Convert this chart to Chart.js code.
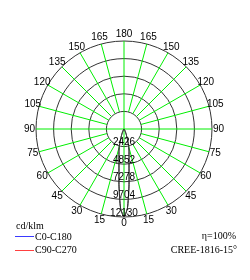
<!DOCTYPE html>
<html>
<head>
<meta charset="utf-8">
<script src="https://cdn.jsdelivr.net/npm/chart.js@4/dist/chart.umd.min.js"></script>
<style>
  html, body { margin: 0; padding: 0; background: #fff; }
  #wrap { position: relative; width: 250px; height: 280px; overflow: hidden; }
  canvas { position: absolute; left: 0; top: 0; }
  .t { position: absolute; font-family: "Liberation Serif", serif; font-size: 10px; line-height: 12px; color: #000; white-space: nowrap; }
  .ln { position: absolute; height: 1px; width: 19px; }
</style>
</head>
<body>
<div id="wrap">
  <canvas id="c" width="250" height="280"></canvas>
  <div class="t" style="left:16px; top:220px;">cd/klm</div>
  <div class="ln" style="left:15px; top:236px; background:#3a3aff;"></div>
  <div class="t" style="left:35px; top:231px;">C0-C180</div>
  <div class="ln" style="left:15px; top:250px; background:#ff4040;"></div>
  <div class="t" style="left:35px; top:244px;">C90-C270</div>
  <div class="t" style="right:14px; top:230px;">η=100%</div>
  <div class="t" style="right:13px; top:244px;">CREE-1816-15°</div>
</div>
<script>
// Gamma angles (degrees from nadir) of the measured half plane
const gammaDeg = [0,2.5,5,7.5,10,12.5,15,17.5,20,22.5,25,27.5,30,32.5,35,37.5,40,42.5,45,47.5,50,52.5,55,57.5,60,62.5,65,67.5,70,72.5,75,77.5,80,82.5,85,87.5,90,92.5,95,97.5,100,102.5,105,107.5,110,112.5,115,117.5,120,122.5,125,127.5,130,132.5,135,137.5,140,142.5,145,147.5,150,152.5,155,157.5,160,162.5,165,167.5,170,172.5,175,177.5,180];

// Luminous intensity, cd/klm
const c0c180 = [12130,10900,7900,5300,4000,3200,2500,1700,1150,800,520,350,240,170,120,90,70,55,45,35,28,22,18,14,10,8,6,4,3,2,1,1,0,0,0,0,0,0,0,0,0,0,0,0,0,0,0,0,0,0,0,0,0,0,0,0,0,0,0,0,0,0,0,0,0,0,0,0,0,0,0,0,0];
const c90c270 = [12130,10900,7900,5300,4000,3200,2500,1700,1150,800,520,350,240,170,120,90,70,55,45,35,28,22,18,14,10,8,6,4,3,2,1,1,0,0,0,0,0,0,0,0,0,0,0,0,0,0,0,0,0,0,0,0,0,0,0,0,0,0,0,0,0,0,0,0,0,0,0,0,0,0,0,0,0];

// Radial tick values (rings)
const tickValues = [0, 2426, 4852, 7278, 9704, 12130];

// Build full circle (both half planes) from the half-plane data
const n = (gammaDeg.length - 1) * 2;
const planeIdx = [];
for (let i = 0; i < n; i++) planeIdx.push(i <= gammaDeg.length - 1 ? i : n - i);
const angleLabels = planeIdx.map(k => String(gammaDeg[k]));
const dataC0 = planeIdx.map(k => c0c180[k]);
const dataC90 = planeIdx.map(k => c90c270[k]);

const labelEvery = 15 / (gammaDeg[1] - gammaDeg[0]);
const axisEvery = 90 / (gammaDeg[1] - gammaDeg[0]);

const labelPlugin = {
  id: 'polarLabels',
  afterDraw(chart) {
    const s = chart.scales.r;
    const ctx = chart.ctx;
    ctx.save();
    ctx.font = '10px "Liberation Sans"';
    ctx.fillStyle = '#000';
    // angle labels, centred just outside the outer ring
    ctx.textAlign = 'center';
    ctx.textBaseline = 'middle';
    s._pointLabels.forEach((lab, i) => {
      if (!lab) return;
      const p = s.getPointPosition(i, s.drawingArea + 6.5);
      ctx.fillText(lab, p.x, p.y);
    });
    // ring value labels along the 0° direction
    ctx.textBaseline = 'alphabetic';
    tickValues.forEach(v => {
      if (v === 0) return;
      const p = s.getPointPosition(0, s.getDistanceFromCenterForValue(v));
      ctx.fillText(String(v), p.x, p.y - 1.5);
    });
    ctx.restore();
  }
};

new Chart(document.getElementById('c'), {
  type: 'radar',
  data: {
    labels: angleLabels,
    datasets: [
      { label: 'C0-C180', data: dataC0, borderColor: '#333', borderWidth: 1, pointRadius: 0, fill: false, tension: 0.2 },
      { label: 'C90-C270', data: dataC90, borderColor: '#333', borderWidth: 1, pointRadius: 0, fill: false, tension: 0.2 }
    ]
  },
  options: {
    responsive: false,
    animation: false,
    layout: { padding: { left: 36, right: 38, top: 41, bottom: 63 } },
    plugins: { legend: { display: false }, tooltip: { enabled: false } },
    scales: {
      r: {
        startAngle: 180,
        min: 0,
        max: tickValues[tickValues.length - 1],
        afterBuildTicks: (scale) => { scale.ticks = tickValues.map(v => ({ value: v })); },
        ticks: { display: false },
        grid: { circular: true, color: '#333', lineWidth: 1 },
        angleLines: {
          display: true,
          color: '#00ee00',
          lineWidth: (c) => (c.index % labelEvery === 0 ? 1 : 0),
          borderDash: (c) => {
            if (c.index % axisEvery === 0) return [];
            const s = c.chart.scales.r;
            const d = s.getDistanceFromCenterForValue(tickValues[1]);
            return [0, d, 1000];
          }
        },
        pointLabels: {
          display: false,
          callback: (label, index) => (index % labelEvery === 0 ? label : '')
        }
      }
    }
  },
  plugins: [labelPlugin]
});
</script>
</body>
</html>
